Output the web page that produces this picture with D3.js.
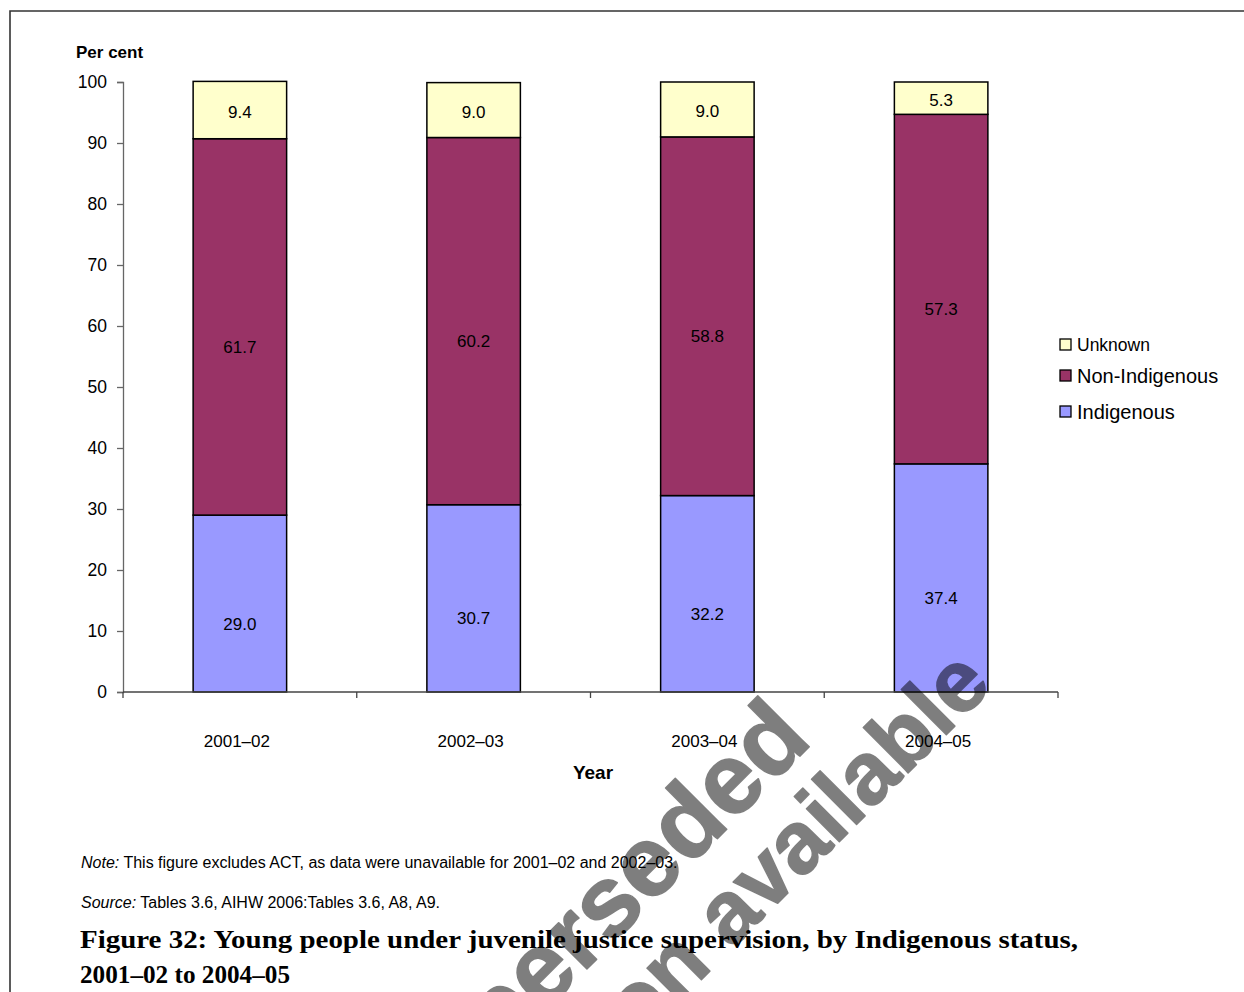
<!DOCTYPE html>
<html>
<head>
<meta charset="utf-8">
<script src="https://cdn.jsdelivr.net/npm/d3@7"></script>
<style>
  html, body { margin: 0; padding: 0; background: #fff; }
  svg { display: block; }
</style>
</head>
<body>
<svg id="chart" width="1244" height="992"></svg>
<script>
// Financial years shown on the x axis
const years = ["2001–02", "2002–03", "2003–04", "2004–05"];
// Share of young people under supervision (per cent), by Indigenous status
const indigenous    = [29.0, 30.7, 32.2, 37.4];
const nonIndigenous = [61.7, 60.2, 58.8, 57.3];
const unknown       = [9.4, 9.0, 9.0, 5.3];
// Series names, stacked bottom to top
const seriesNames = ["Indigenous", "Non-Indigenous", "Unknown"];
// Y axis ticks
const yTicks = [0, 10, 20, 30, 40, 50, 60, 70, 80, 90, 100];

const colors = { "Indigenous": "#9999FF", "Non-Indigenous": "#993366", "Unknown": "#FFFFCC" };
const labelShift = { "Indigenous": 20, "Non-Indigenous": 20, "Unknown": 2 };

const rows = years.map((yr, i) => ({
  year: yr,
  "Indigenous": indigenous[i],
  "Non-Indigenous": nonIndigenous[i],
  "Unknown": unknown[i]
}));

const svg = d3.select("#chart");
const sans = "'Liberation Sans', Arial, sans-serif";

// page frame
svg.append("path")
  .attr("d", "M10,992 L10,11 L1244,11")
  .attr("fill", "none").attr("stroke", "#333").attr("stroke-width", 1.6);

const x = d3.scaleBand().domain(years).range([123, 1058]).padding(0);
const y = d3.scaleLinear().domain([0, 100]).range([692, 82]);
const barW = x.bandwidth() * 0.4;

const stacked = d3.stack().keys(seriesNames)(rows);

// bars
const g = svg.append("g");
stacked.forEach(series => {
  g.append("g").selectAll("rect")
    .data(series)
    .join("rect")
    .attr("x", d => x(d.data.year) + (x.bandwidth() - barW) / 2)
    .attr("y", d => y(d[1]))
    .attr("width", barW)
    .attr("height", d => y(d[0]) - y(d[1]))
    .attr("fill", colors[series.key])
    .attr("stroke", "#000")
    .attr("stroke-width", 1.5);
});

// value labels
stacked.forEach(series => {
  g.append("g").selectAll("text")
    .data(series)
    .join("text")
    .attr("x", d => x(d.data.year) + x.bandwidth() / 2)
    .attr("y", d => y((d[0] + d[1]) / 2) + labelShift[series.key])
    .attr("dy", "0.35em")
    .attr("text-anchor", "middle")
    .attr("font-family", sans)
    .attr("font-size", 17)
    .attr("fill", "#000")
    .text(d => (d[1] - d[0]).toFixed(1));
});

// y axis
const yAxis = d3.axisLeft(y).tickValues(yTicks).tickSize(6).tickPadding(10);
const yg = svg.append("g").attr("transform", "translate(123,0)").call(yAxis);
yg.select(".domain").attr("stroke", "#666").attr("stroke-width", 1.3);
yg.selectAll(".tick line").attr("stroke", "#666").attr("stroke-width", 1.3);
yg.selectAll(".tick text").attr("font-family", sans).attr("font-size", 17.5).attr("fill", "#000");

// x axis: category labels centred, ticks at category boundaries
const xg = svg.append("g").attr("transform", "translate(0,692)");
xg.append("line").attr("x1", 123).attr("x2", 1058).attr("stroke", "#444").attr("stroke-width", 1.3);
const bounds = years.map(d => x(d)).concat([x(years[years.length - 1]) + x.bandwidth()]);
xg.selectAll("line.tk").data(bounds).join("line")
  .attr("class", "tk")
  .attr("x1", d => d).attr("x2", d => d)
  .attr("y1", 0).attr("y2", 6)
  .attr("stroke", "#444").attr("stroke-width", 1.3);
xg.selectAll("text").data(years).join("text")
  .attr("x", d => x(d) + x.bandwidth() / 2 - 3)
  .attr("y", 55)
  .attr("text-anchor", "middle")
  .attr("font-family", sans).attr("font-size", 17).attr("fill", "#000")
  .text(d => d);

// axis titles
svg.append("text").attr("x", 593).attr("y", 779).attr("text-anchor", "middle")
  .attr("font-family", sans).attr("font-size", 19).attr("font-weight", "bold").text("Year");
svg.append("text").attr("x", 76).attr("y", 58)
  .attr("font-family", sans).attr("font-size", 17).attr("font-weight", "bold").text("Per cent");

// legend, top entry first
const legendItems = [
  { name: "Unknown", y: 339, size: 17.5 },
  { name: "Non-Indigenous", y: 370, size: 20 },
  { name: "Indigenous", y: 406, size: 20 }
];
const lg = svg.append("g");
legendItems.forEach(it => {
  lg.append("rect").attr("x", 1060).attr("y", it.y).attr("width", 11).attr("height", 11)
    .attr("fill", colors[it.name]).attr("stroke", "#000").attr("stroke-width", 1.3);
  lg.append("text").attr("x", 1077).attr("y", it.y + 6).attr("dy", "0.35em")
    .attr("font-family", sans).attr("font-size", it.size).attr("fill", "#000").text(it.name);
});

// notes
const note = svg.append("text").attr("x", 81).attr("y", 868)
  .attr("font-family", sans).attr("font-size", 16).attr("fill", "#000");
note.append("tspan").attr("font-style", "italic").text("Note:");
note.append("tspan").text(" This figure excludes ACT, as data were unavailable for 2001–02 and 2002–03.");
const src = svg.append("text").attr("x", 81).attr("y", 908)
  .attr("font-family", sans).attr("font-size", 16).attr("fill", "#000");
src.append("tspan").attr("font-style", "italic").text("Source:");
src.append("tspan").text(" Tables 3.6, AIHW 2006:Tables 3.6, A8, A9.");

// figure caption
const serif = "'Liberation Serif', 'Times New Roman', serif";
svg.append("text").attr("x", 80).attr("y", 948)
  .attr("font-family", serif).attr("font-size", 26).attr("font-weight", "bold")
  .attr("textLength", 998).attr("lengthAdjust", "spacingAndGlyphs")
  .text("Figure 32: Young people under juvenile justice supervision, by Indigenous status,");
svg.append("text").attr("x", 80).attr("y", 983)
  .attr("font-family", serif).attr("font-size", 26).attr("font-weight", "bold")
  .attr("textLength", 210).attr("lengthAdjust", "spacingAndGlyphs")
  .text("2001–02 to 2004–05");

// status stamp across the page (whole group composited at half opacity)
const wm = svg.append("g").attr("opacity", 0.5)
  .attr("font-family", sans).attr("font-weight", "bold")
  .attr("fill", "#000").attr("stroke", "#000").attr("stroke-width", 1.5)
  .attr("stroke-linejoin", "round").attr("text-anchor", "end");
wm.append("text").attr("font-size", 100)
  .attr("transform", "translate(814,742) rotate(-45)").text("Superseded");
wm.append("text").attr("font-size", 88)
  .attr("transform", "translate(994,687) rotate(-45)").text("Later version available");
</script>
</body>
</html>
